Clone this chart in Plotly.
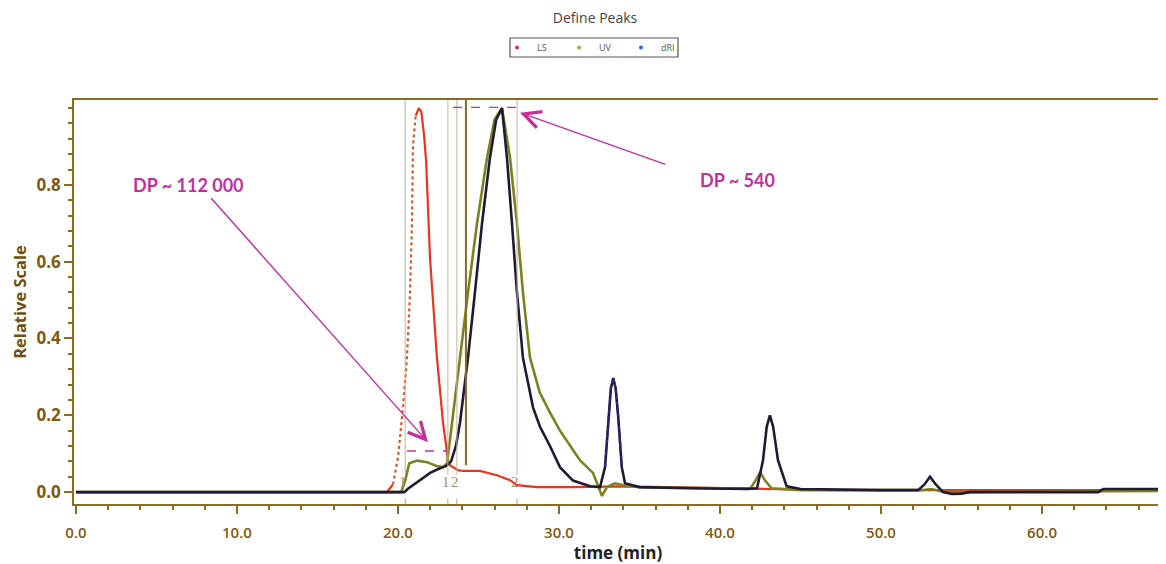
import plotly.graph_objects as go

# ---------------- data ----------------
ls_time = [0, 19.3, 19.5, 19.69, 20.0, 20.31, 20.56, 20.75, 20.87, 20.93, 21.1, 21.3, 21.45,
           21.62, 21.75, 21.85, 21.99, 22.42, 22.8, 23.11, 23.23, 23.73, 24.04, 25.09, 26.15,
           26.96, 27.39, 28.63, 30.68, 34.0, 40.0, 47.0, 67.3]
ls_val = [0, 0, 0.01, 0.02, 0.09, 0.22, 0.35, 0.52, 0.70, 0.90, 0.98, 1.0, 0.99,
          0.93, 0.86, 0.76, 0.61, 0.35, 0.18, 0.083, 0.07, 0.057, 0.055, 0.055, 0.044,
          0.031, 0.018, 0.013, 0.013, 0.015, 0.01, 0.005, 0.005]

uv_time = [0, 20.2, 20.45, 20.7, 21.2, 21.8, 22.4, 22.8, 23.05, 23.35, 23.86, 24.35, 24.91,
           25.53, 26.0, 26.46, 26.96, 27.39, 27.76, 28.2, 28.8, 29.4, 30.06, 30.68, 31.3,
           32.11, 32.55, 32.67, 32.98, 33.48, 33.98, 35.0, 40.0, 41.9, 42.2, 42.49, 42.8,
           43.2, 45.0, 52.5, 53.1, 54.0, 67.3]
uv_val = [0, 0, 0.03, 0.075, 0.082, 0.078, 0.068, 0.065, 0.075, 0.18, 0.35, 0.52, 0.70,
          0.87, 0.97, 1.0, 0.87, 0.70, 0.52, 0.35, 0.26, 0.21, 0.16, 0.12, 0.083,
          0.05, 0.005, -0.01, 0.013, 0.023, 0.018, 0.013, 0.01, 0.01, 0.03, 0.052, 0.03,
          0.01, 0.005, 0.005, 0.008, 0.0, 0.003]

dri_time = [0, 20.4, 20.6, 21.0, 21.5, 22.0, 22.5, 23.0, 23.3, 23.6, 23.85, 24.35, 24.78,
            25.22, 25.71, 26.1, 26.46, 26.77, 27.08, 27.39, 27.76, 28.39, 28.82, 29.44, 30.06,
            30.87, 31.93, 32.55, 32.86, 33.06, 33.22, 33.37, 33.52, 33.68, 33.9, 34.1, 35.0,
            38.0, 41.7, 42.3, 42.67, 42.9, 43.1, 43.3, 43.6, 44.14, 45.0, 50.0, 52.3, 52.7,
            53.04, 53.4, 53.85, 54.4, 55.0, 55.5, 63.5, 63.8, 67.3]
dri_val = [0, 0, 0.008, 0.02, 0.035, 0.05, 0.06, 0.068, 0.08, 0.12, 0.18, 0.35, 0.52,
           0.70, 0.87, 0.97, 1.0, 0.87, 0.70, 0.52, 0.35, 0.22, 0.17, 0.12, 0.065,
           0.03, 0.015, 0.013, 0.065, 0.195, 0.27, 0.297, 0.27, 0.195, 0.065, 0.023, 0.013,
           0.01, 0.008, 0.01, 0.083, 0.17, 0.2, 0.17, 0.083, 0.015, 0.008, 0.005, 0.005, 0.02,
           0.04, 0.02, 0.0, -0.005, -0.004, 0.0, 0.0, 0.008, 0.008]

series_names = ["LS", "UV", "dRI"]
legend_colors = ["#e8303a", "#7cc242", "#3a5fd0"]

boundary_times = [20.45, 23.1, 23.66, 27.4]
boundary_labels = ["1", "1", "2", "2"]
marker_line_time = 24.22

dp_labels = ["DP ~ 112 000", "DP ~ 540"]
dp_text_pos = [(6.96, 0.80), (41.06, 0.813)]
dp_arrow_tip = [(21.86, 0.13), (27.58, 0.988)]
dp_arrow_tail = [(8.32, 0.769), (36.7, 0.852)]
dp_dash_x = [(20.56, 23.04), (23.42, 27.76)]
dp_dash_y = [0.107, 1.002]

x_ticks = [0, 10, 20, 30, 40, 50, 60]
y_ticks = [0.0, 0.2, 0.4, 0.6, 0.8]

# ---------------- styles ----------------
LS_COLOR = "#e8351e"
LS_DOT_COLOR = "#cf5a2c"
UV_COLOR = "#7d8220"
DRI_COLOR = "#221a32"
DRI_BLUE = "#2e2a8c"
AXIS_COLOR = "#8c6d1f"
TICKLABEL_COLOR = "#7f5a12"
MAGENTA = "#c42f9c"

# the page body adds an 8 px offset; the figure is sized to fill the rest of the window
FIG_W, FIG_H = 1158, 556
M_L, M_R, M_T, M_B = 66, 4, 92, 60
PLOT_W = FIG_W - M_L - M_R
PLOT_H = FIG_H - M_T - M_B


def px_x(p):  # page pixel -> paper fraction
    return (p - 8 - M_L) / PLOT_W


def px_y(p):
    return (FIG_H - M_B + 8 - p) / PLOT_H


fig = go.Figure()

# LS: solid baseline, dotted steep rise, solid remainder
fig.add_trace(go.Scatter(x=ls_time[:4], y=ls_val[:4], mode="lines",
                         line=dict(color=LS_COLOR, width=2.2), showlegend=False))
fig.add_trace(go.Scatter(x=ls_time[3:11], y=ls_val[3:11], mode="lines",
                         line=dict(color=LS_DOT_COLOR, width=2.2, dash="dot"), showlegend=False))
fig.add_trace(go.Scatter(x=ls_time[10:], y=ls_val[10:], mode="lines",
                         line=dict(color=LS_COLOR, width=2.2), showlegend=False))

# UV
fig.add_trace(go.Scatter(x=uv_time, y=uv_val, mode="lines",
                         line=dict(color=UV_COLOR, width=2.6), showlegend=False))
# dRI
fig.add_trace(go.Scatter(x=dri_time, y=dri_val, mode="lines",
                         line=dict(color=DRI_COLOR, width=2.6), showlegend=False))
# bluish dotted part of the dRI peak near 33 min
fig.add_trace(go.Scatter(x=dri_time[28:35], y=dri_val[28:35], mode="lines",
                         line=dict(color=DRI_BLUE, width=2.2, dash="dot"),
                         showlegend=False))

# legend entries
for name, col in zip(series_names, legend_colors):
    fig.add_trace(go.Scatter(x=[None], y=[None], mode="markers", name=name,
                             marker=dict(color=col, size=4)))

# legend frame
fig.add_shape(type="rect", xref="paper", yref="paper",
              x0=px_x(510), x1=px_x(678), y0=px_y(57), y1=px_y(38),
              line=dict(color="#555555", width=1.2), fillcolor="rgba(0,0,0,0)")

# peak boundary lines and labels
for t, lab in zip(boundary_times, boundary_labels):
    fig.add_shape(type="line", xref="x", yref="y", x0=t, x1=t, y0=0.045, y1=1.021,
                  line=dict(color="#c4b497", width=1))
    fig.add_shape(type="line", xref="x", yref="y", x0=t, x1=t, y0=-0.031, y1=-0.017,
                  line=dict(color="#b7a27a", width=1))
    fig.add_annotation(x=t, y=0.026, xref="x", yref="y", text=lab, showarrow=False,
                       xshift=-2,
                       font=dict(family="Liberation Serif", size=15, color="#a58f6a"))

fig.add_shape(type="line", xref="x", yref="y", x0=marker_line_time, x1=marker_line_time,
              y0=0.07, y1=1.021, line=dict(color="#8a6a1c", width=2))

# DP annotations
for lab, (tx, ty), (hx, hy), (ax_, ay_), (dx0, dx1), dy in zip(
        dp_labels, dp_text_pos, dp_arrow_tip, dp_arrow_tail, dp_dash_x, dp_dash_y):
    fig.add_annotation(x=tx, y=ty, xref="x", yref="y", text="<b>%s</b>" % lab,
                       showarrow=False, font=dict(family="Lato", size=18, color=MAGENTA))
    fig.add_annotation(x=hx, y=hy, xref="x", yref="y", ax=ax_, ay=ay_, axref="x", ayref="y",
                       text="", showarrow=True, arrowhead=5, arrowsize=2.4, arrowwidth=1.4,
                       arrowcolor=MAGENTA)
    fig.add_shape(type="line", xref="x", yref="y", x0=dx0, x1=dx1, y0=dy, y1=dy,
                  line=dict(color=MAGENTA, width=1.3, dash="dash"))

fig.update_layout(
    width=FIG_W, height=FIG_H,
    margin=dict(l=M_L, r=M_R, t=M_T, b=M_B, autoexpand=False),
    paper_bgcolor="white", plot_bgcolor="white",
    title=dict(text="Define Peaks", x=(595 - 8) / FIG_W, xanchor="center",
               y=1 - (18 - 8) / FIG_H, yanchor="middle", yref="container",
               font=dict(family="Open Sans", size=14, color="#444444")),
    legend=dict(orientation="h", x=px_x(590), xanchor="center",
                y=px_y(47.5), yanchor="middle",
                bgcolor="rgba(0,0,0,0)", borderwidth=0,
                font=dict(family="Open Sans", size=9, color="#555555"),
                entrywidth=17, entrywidthmode="pixels", itemwidth=30,
                tracegroupgap=0),
    xaxis=dict(range=[-0.12, 67.45], tickvals=x_ticks,
               ticktext=["%.1f" % v for v in x_ticks],
               ticks="outside", ticklen=8, tickwidth=1.5, tickcolor=AXIS_COLOR,
               minor=dict(dtick=2, tick0=0, ticks="outside", ticklen=4, tickwidth=1.5,
                          tickcolor=AXIS_COLOR),
               showline=True, linecolor=AXIS_COLOR, linewidth=1.5, mirror=True,
               showgrid=False, zeroline=False, ticklabelstandoff=6, automargin=False,
               tickfont=dict(family="Open Sans", size=15, color=TICKLABEL_COLOR, weight=600),
               title=dict(text="<b>time (min)</b>", standoff=0,
                          font=dict(family="Open Sans", size=17, color="#222222"))),
    yaxis=dict(range=[-0.031, 1.021], tickvals=y_ticks,
               ticktext=["%.1f" % v for v in y_ticks],
               ticks="outside", ticklen=8, tickwidth=1.5, tickcolor=AXIS_COLOR,
               minor=dict(dtick=0.04, tick0=0, ticks="outside", ticklen=4, tickwidth=1.5,
                          tickcolor=AXIS_COLOR),
               showline=True, linecolor=AXIS_COLOR, linewidth=1.5, mirror=True,
               showgrid=False, zeroline=False, automargin=False,
               tickfont=dict(family="Open Sans", size=17, color=TICKLABEL_COLOR, weight=700),
               title=dict(text="<b>Relative Scale</b>", standoff=10,
                          font=dict(family="Open Sans", size=16.5, color="#6e4f10"))),
)

fig.write_html("out.html")
